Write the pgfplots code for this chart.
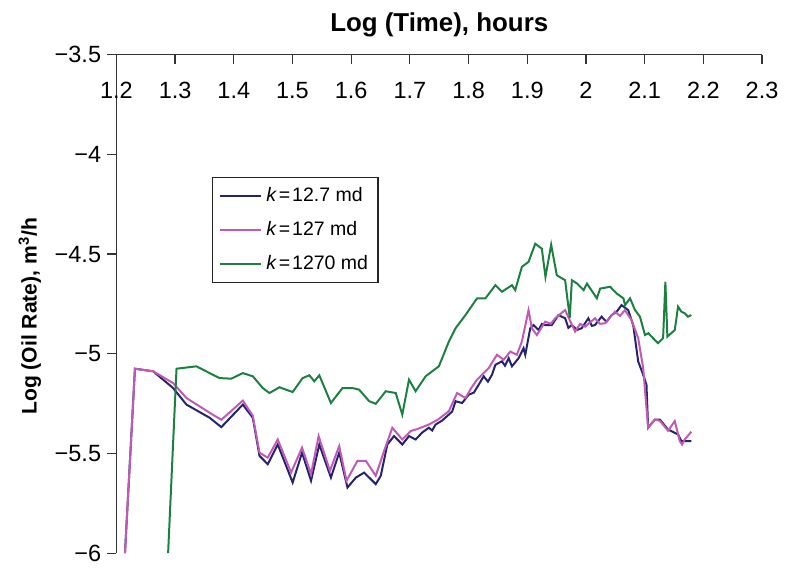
\documentclass[border=0pt]{standalone}
\usepackage{fontspec}
\setmainfont{Liberation Sans}
\usepackage{pgfplots}
\pgfplotsset{compat=1.18}
\definecolor{kA}{RGB}{35,35,112}
\definecolor{kB}{RGB}{192,90,182}
\definecolor{kC}{RGB}{28,128,64}
\begin{document}
\begin{tikzpicture}
\begin{axis}[
  name=ax,
  width=324.5pt, height=250.5pt, scale only axis,
  xmin=1.2, xmax=2.3, ymin=-6, ymax=-3.5,
  axis x line*=top, axis y line*=left,
  axis line style={line width=0.7pt, color=black!80},
  xtick={1.2,1.3,1.4,1.5,1.6,1.7,1.8,1.9,2,2.1,2.2,2.3},
  xticklabels={1.2,1.3,1.4,1.5,1.6,1.7,1.8,1.9,2,2.1,2.2,2.3},
  ytick={-6,-5.5,-5,-4.5,-4,-3.5},
  yticklabels={−6,−5.5,−5,−4.5,−4,−3.5},
  xtick align=inside, ytick align=outside,
  major tick length=4.5pt,
  tick style={line width=0.6pt, color=black!80},
  tick label style={font=\fontsize{11.8}{14}\selectfont},
  xticklabel style={anchor=center, yshift=-18pt},
  yticklabel style={inner sep=3pt},
  xlabel={Log (Time), hours},
  xlabel style={at={(axis description cs:0.5,1)}, anchor=base, yshift=11.5pt,
    font=\bfseries\fontsize{13}{15}\selectfont},
  ylabel={Log (Oil Rate), m\textsuperscript{3}/h},
  ylabel style={at={(axis description cs:-0.134,0.475)}, anchor=center,
    font=\bfseries\fontsize{10.6}{12}\selectfont},
  legend style={at={(axis description cs:0.148,0.7545)}, anchor=north west,
    draw=black!85, line width=0.6pt, inner sep=3pt, row sep=4.5pt,
    font=\fontsize{9.8}{11.5}\selectfont,
    nodes={inner sep=2pt, text height=7pt, text depth=1.5pt}},
  legend cell align=left,
  legend image code/.code={\draw[#1, line width=1pt] (0pt,0pt) -- (21pt,0pt);},
  every axis plot/.append style={line width=1pt},
]

% k = 12.7 md
\addplot[kA] coordinates {
(1.2146,-6.0) (1.2316,-5.075) (1.2627,-5.088) (1.2966,-5.172) (1.3194,-5.255)
(1.3589,-5.321) (1.3788,-5.368) (1.4154,-5.255) (1.4324,-5.321) (1.4438,-5.512)
(1.4579,-5.554) (1.4749,-5.455) (1.5003,-5.646) (1.5163,-5.496) (1.5316,-5.637)
(1.5457,-5.455) (1.5655,-5.621) (1.5796,-5.496) (1.5937,-5.671) (1.6080,-5.621)
(1.6221,-5.596) (1.6419,-5.654) (1.6504,-5.612) (1.6616,-5.455) (1.6730,-5.413)
(1.6871,-5.455) (1.6985,-5.413) (1.7098,-5.430) (1.7210,-5.395) (1.7324,-5.371)
(1.7380,-5.385) (1.7438,-5.355) (1.7550,-5.335) (1.7664,-5.305) (1.7720,-5.290)
(1.7778,-5.238) (1.7890,-5.247) (1.8003,-5.205) (1.8090,-5.195) (1.8173,-5.155)
(1.8258,-5.113) (1.8330,-5.140) (1.8399,-5.105) (1.8457,-5.055) (1.8569,-5.038)
(1.8620,-5.060) (1.8683,-5.022) (1.8739,-5.063) (1.8853,-5.022) (1.8937,-4.972)
(1.8966,-5.005) (1.9051,-4.872) (1.9107,-4.856) (1.9192,-4.881) (1.9250,-4.850)
(1.9306,-4.856) (1.9418,-4.856) (1.9531,-4.806) (1.9645,-4.822) (1.9700,-4.870)
(1.9757,-4.856) (1.9850,-4.880) (1.9927,-4.872) (2.0041,-4.822) (2.0100,-4.860)
(2.0154,-4.856) (2.0266,-4.814) (2.0350,-4.840) (2.0436,-4.806) (2.0520,-4.790)
(2.0606,-4.756) (2.0720,-4.781) (2.0805,-4.856) (2.0890,-5.039) (2.0975,-5.105)
(2.1031,-5.155) (2.1059,-5.371) (2.1173,-5.330) (2.1258,-5.330) (2.1399,-5.380)
(2.1569,-5.405) (2.1625,-5.438) (2.1795,-5.438)
};
\addlegendentry{\textit{k}\kern1pt=\kern1pt12.7 md}

% k = 127 md
\addplot[kB] coordinates {
(1.2146,-6.0) (1.2316,-5.075) (1.2627,-5.088) (1.2966,-5.147) (1.3194,-5.222)
(1.3589,-5.296) (1.3788,-5.331) (1.4154,-5.235) (1.4324,-5.311) (1.4438,-5.496)
(1.4579,-5.521) (1.4749,-5.430) (1.4976,-5.596) (1.5163,-5.471) (1.5316,-5.604)
(1.5445,-5.413) (1.5638,-5.587) (1.5796,-5.463) (1.5920,-5.637) (1.6107,-5.537)
(1.6250,-5.537) (1.6419,-5.612) (1.6560,-5.488) (1.6701,-5.371) (1.6871,-5.430)
(1.7014,-5.388) (1.7150,-5.375) (1.7324,-5.355) (1.7480,-5.330) (1.7664,-5.288)
(1.7805,-5.197) (1.7947,-5.222) (1.8050,-5.170) (1.8144,-5.130) (1.8229,-5.105)
(1.8343,-5.072) (1.8410,-5.040) (1.8484,-5.005) (1.8598,-5.030) (1.8711,-4.989)
(1.8823,-5.005) (1.8908,-4.939) (1.9022,-4.781) (1.9078,-4.872) (1.9163,-4.906)
(1.9306,-4.839) (1.9400,-4.850) (1.9475,-4.822) (1.9645,-4.781) (1.9815,-4.889)
(1.9900,-4.850) (1.9985,-4.864) (2.0154,-4.822) (2.0240,-4.850) (2.0324,-4.847)
(2.0494,-4.789) (2.0580,-4.810) (2.0664,-4.781) (2.0776,-4.831) (2.0890,-4.922)
(2.0975,-5.072) (2.1059,-5.371) (2.1173,-5.330) (2.1258,-5.336) (2.1399,-5.386)
(2.1513,-5.338) (2.1598,-5.438) (2.1637,-5.455) (2.1683,-5.430) (2.1795,-5.391)
};
\addlegendentry{\textit{k}\kern1pt=\kern1pt127 md}

% k = 1270 md
\addplot[kC] coordinates {
(1.2881,-6.0) (1.3024,-5.075) (1.3363,-5.063) (1.3589,-5.097) (1.3759,-5.122)
(1.3958,-5.125) (1.4154,-5.097) (1.4324,-5.113) (1.4494,-5.172) (1.4608,-5.197)
(1.4778,-5.168) (1.5003,-5.192) (1.5173,-5.122) (1.5287,-5.108) (1.5372,-5.138)
(1.5457,-5.108) (1.5655,-5.247) (1.5852,-5.172) (1.6022,-5.172) (1.6136,-5.180)
(1.6306,-5.238) (1.6419,-5.251) (1.6589,-5.188) (1.6759,-5.197) (1.6871,-5.305)
(1.6985,-5.130) (1.7098,-5.188) (1.7268,-5.113) (1.7494,-5.063) (1.7664,-4.939)
(1.7778,-4.872) (1.7947,-4.806) (1.8144,-4.722) (1.8287,-4.722) (1.8457,-4.656)
(1.8569,-4.689) (1.8739,-4.656) (1.8795,-4.681) (1.8908,-4.564) (1.9022,-4.539)
(1.9136,-4.448) (1.9248,-4.473) (1.9310,-4.614) (1.9407,-4.453) (1.9503,-4.606)
(1.9645,-4.631) (1.9724,-4.819) (1.9760,-4.631) (1.9850,-4.648) (1.9960,-4.681)
(2.0017,-4.648) (2.0186,-4.722) (2.0242,-4.673) (2.0412,-4.664) (2.0525,-4.698)
(2.0639,-4.722) (2.0666,-4.756) (2.0751,-4.722) (2.0836,-4.781) (2.0920,-4.814)
(2.1005,-4.906) (2.1063,-4.897) (2.1173,-4.931) (2.1229,-4.947) (2.1314,-4.922)
(2.1353,-4.639) (2.1387,-4.914) (2.1513,-4.881) (2.1569,-4.764) (2.1625,-4.789)
(2.1683,-4.797) (2.1738,-4.814) (2.1795,-4.806)
};
\addlegendentry{\textit{k}\kern1pt=\kern1pt1270 md}

\end{axis}
\path (ax.south west) ++(-58.5pt,-5.5pt) (ax.north east) ++(9.5pt,27.5pt);
\end{tikzpicture}
\end{document}
